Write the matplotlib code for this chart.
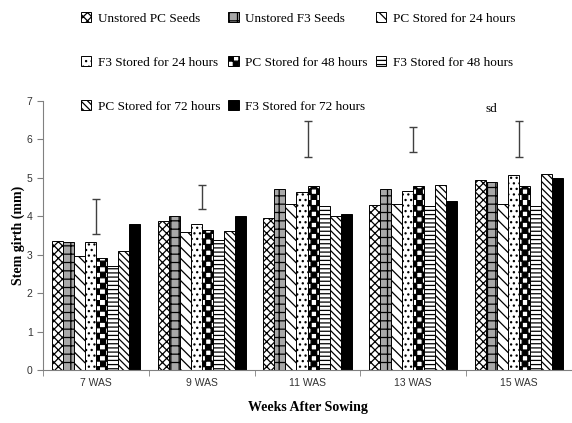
import numpy as np
import matplotlib
matplotlib.use("Agg")
import matplotlib.pyplot as plt
import matplotlib.hatch as mhatch
from matplotlib.path import Path
from matplotlib.lines import Line2D

# ---------------- data ----------------
categories = ["7 WAS", "9 WAS", "11 WAS", "13 WAS", "15 WAS"]
series_names = [
    "Unstored PC Seeds", "Unstored F3 Seeds", "PC Stored for 24 hours",
    "F3 Stored for 24 hours", "PC Stored for 48 hours", "F3 Stored for 48 hours",
    "PC Stored for 72 hours", "F3 Stored for 72 hours",
]
unstored_pc = [3.35, 3.89, 3.96, 4.29, 4.95]
unstored_f3 = [3.32, 4.00, 4.72, 4.72, 4.90]
pc_24 = [2.97, 3.59, 4.33, 4.33, 4.33]
f3_24 = [3.32, 3.79, 4.62, 4.66, 5.08]
pc_48 = [2.91, 3.65, 4.79, 4.79, 4.79]
f3_48 = [2.70, 3.38, 4.27, 4.27, 4.27]
pc_72 = [3.10, 3.61, 4.00, 4.81, 5.11]
f3_72 = [3.81, 4.00, 4.06, 4.41, 5.00]
sd_center = [4.00, 4.50, 6.00, 6.00, 6.00]
sd_err = [0.46, 0.31, 0.47, 0.32, 0.47]
yticks = [0, 1, 2, 3, 4, 5, 6, 7]

series_values = [unstored_pc, unstored_f3, pc_24, f3_24, pc_48, f3_48, pc_72, f3_72]


# ---------------- custom checkerboard hatch (replaces 'O') ----------------
class CheckerHatch(mhatch.HatchPatternBase):
    def __init__(self, hatch, density):
        self.n = int(round(hatch.count('O') * density * 0.75))
        self.num_vertices = self.n * self.n * 2 * 5

    def set_vertices_and_codes(self, vertices, codes):
        n = self.n
        s = 0.5 / n
        k = 0
        for i in range(n):
            for j in range(n):
                for (x0, y0) in ((i / n, j / n), ((i + 0.5) / n, (j + 0.5) / n)):
                    vertices[k:k + 5] = [(x0, y0), (x0 + s, y0), (x0 + s, y0 + s),
                                         (x0, y0 + s), (x0, y0)]
                    codes[k:k + 5] = [Path.MOVETO, Path.LINETO, Path.LINETO,
                                      Path.LINETO, Path.CLOSEPOLY]
                    k += 5

    get_vertices_and_codes = set_vertices_and_codes


mhatch._hatch_types = [h for h in mhatch._hatch_types if h is not mhatch.LargeCircles]
mhatch._hatch_types.append(CheckerHatch)

plt.rcParams['hatch.linewidth'] = 0.9

hatches = ['xxxx', '++', '\\\\\\', '...', 'OO', '----', '\\\\\\\\\\', '']
faces = ['white', '#a8a8a8'] + ['white'] * 5 + ['black']

fig = plt.figure(figsize=(5.72, 4.23), dpi=100)
ax = fig.add_axes([43 / 572, 53 / 423, 1 - 43 / 572, (370 - 101) / 423])

x = np.arange(len(categories))
w = 0.104
for i, (vals, name) in enumerate(zip(series_values, series_names)):
    ax.bar(x + (i - 3.5) * w, vals, width=w, facecolor=faces[i], edgecolor='black',
           hatch=hatches[i], linewidth=0.7, label=name)

ax.errorbar(x, sd_center, yerr=sd_err, fmt='none', ecolor='#404040', elinewidth=1.0,
            capsize=3, capthick=1.0)

ax.set_xlim(-0.5, -0.5 + 529 / 107)
ax.set_ylim(0, 7)
ax.set_yticks(yticks)
ax.set_xticks(x)
ax.set_xticklabels(categories, fontsize=7.5, family='Liberation Sans', color='#333333')
ax.set_xticks(np.arange(-0.5, len(categories), 1.0), minor=True)
ax.tick_params(axis='x', which='major', length=0, pad=6)
ax.tick_params(axis='x', which='minor', length=4, color='#808080')
ax.tick_params(axis='y', length=4, color='#808080', labelsize=7.5, labelcolor='#333333')
for lab in ax.get_yticklabels():
    lab.set_family('Liberation Sans')
for s in ['top', 'right']:
    ax.spines[s].set_visible(False)
for s in ['left', 'bottom']:
    ax.spines[s].set_color('#808080')
    ax.spines[s].set_linewidth(0.8)

ax.set_xlabel("Weeks After Sowing", family='Liberation Serif', fontweight='bold',
              fontsize=10, labelpad=9)
ax.set_ylabel("Stem girth (mm)", family='Liberation Serif', fontweight='bold',
              fontsize=10, labelpad=1)

handles, labels = ax.get_legend_handles_labels()
order = [0, 3, 6, 1, 4, 7, 2, 5]
leg = fig.legend([handles[k] for k in order], [labels[k] for k in order], ncol=3,
                 loc='upper left', bbox_to_anchor=(0.125, 0.993), frameon=False,
                 prop={'family': 'Liberation Serif', 'size': 9.5},
                 handlelength=0.8, handleheight=0.8, handletextpad=0.5,
                 columnspacing=0.6, labelspacing=2.38, borderaxespad=0.3)
sd_handle = Line2D([], [], linestyle='none')
fig.legend([sd_handle], ["sd"], loc='upper left', bbox_to_anchor=(0.81, 0.77),
           frameon=False, prop={'family': 'Liberation Serif', 'size': 9.5},
           handlelength=0.8, handletextpad=0.5, borderaxespad=0.0)

fig.savefig("out.png", dpi=100)
